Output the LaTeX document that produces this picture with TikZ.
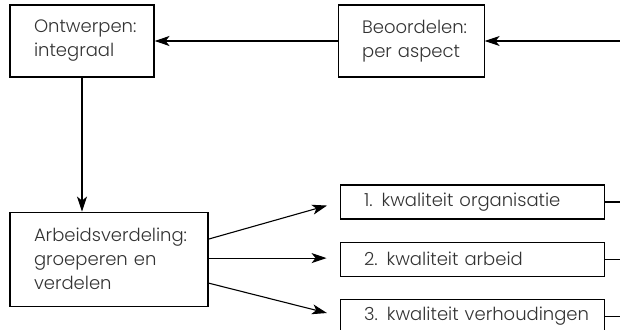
\documentclass[tikz,border=0pt]{standalone}
\usepackage{fontspec}
\setmainfont{Poppins}[UprightFont=* Light]
\usetikzlibrary{positioning,arrows.meta}

\tikzset{
	blok/.style={draw, line width=1.1pt, align=left, inner xsep=8pt, inner ysep=0pt,
		font=\fontsize{18}{24}\selectfont, text=black!80,
		execute at begin node={\leftskip=16pt\hyphenpenalty=10000}},
	pijl/.style={line width=1.1pt, -{Stealth[length=15pt,width=10pt,inset=4pt]}},
	lijn/.style={line width=1.1pt},
}

\begin{document}
\begin{tikzpicture}[x=1pt, y=1pt]
	\useasboundingbox (0,0) rectangle (620,-329);

	\node[blok, text width=128pt, minimum height=72pt] (ontwerpen) at (82,-41) {Ontwerpen:\\integraal};
	\node[blok, text width=130pt, minimum height=72pt, right=183pt of ontwerpen] (beoordelen) {Beoordelen:\\per aspect};
	\node[blok, text width=182pt, minimum height=94pt, below=134pt of ontwerpen.south west, anchor=north west] (arbeid) {Arbeidsverdeling:\\groeperen en\\verdelen};

	% drie kwaliteitsaspecten
	\node[blok, text width=248pt, minimum height=34pt, right=131pt of arbeid] (kwal2) {2. kwaliteit arbeid};
	\node[blok, text width=248pt, minimum height=34pt, above=22pt of kwal2] (kwal1) {1. kwaliteit organisatie};
	\node[blok, text width=248pt, minimum height=34pt, below=22pt of kwal2] (kwal3) {3. kwaliteit verhoudingen};

	\coordinate (rand) at (620,0);

	\draw[pijl] (rand |- beoordelen.east) -- (beoordelen.east);
	\draw[pijl] (beoordelen.west) -- (ontwerpen.east);
	\draw[pijl] (ontwerpen.south) -- (ontwerpen.south |- arbeid.north);

	\draw[pijl, shorten >=13pt] ([yshift=20pt]arbeid.east) -- (kwal1.west);
	\draw[pijl, shorten >=13pt] ([yshift=1pt]arbeid.east) -- ([yshift=1pt]kwal2.west);
	\draw[pijl, shorten >=13pt] ([yshift=-24pt]arbeid.east) -- (kwal3.west);

	\draw[lijn] (kwal1.east) -- (kwal1.east -| rand);
	\draw[lijn] (kwal2.east) -- (kwal2.east -| rand);
	\draw[lijn] (kwal3.east) -- (kwal3.east -| rand);
\end{tikzpicture}
\end{document}
